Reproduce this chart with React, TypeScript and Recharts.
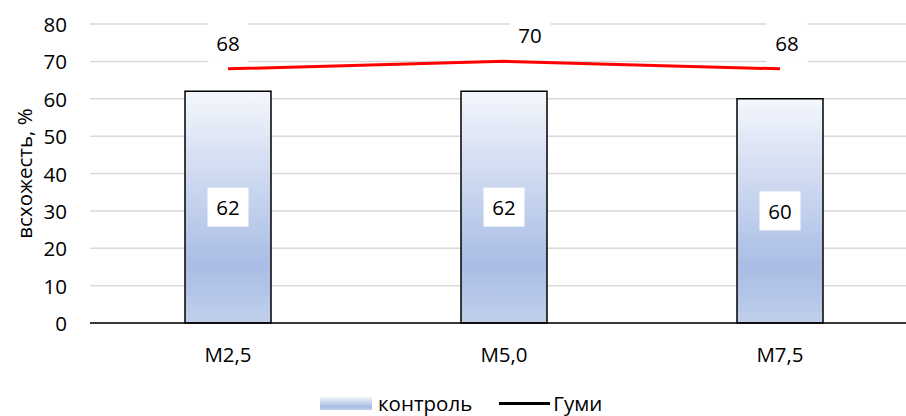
import React from "react";
import {
  ComposedChart,
  Bar,
  Line,
  XAxis,
  YAxis,
  CartesianGrid,
  Legend,
  LabelList,
  Label,
} from "recharts";

const categories = ["M2,5", "M5,0", "M7,5"];
const kontrolValues = [62, 62, 60];
const gumiValues = [68, 70, 68];
const yTicks = [0, 10, 20, 30, 40, 50, 60, 70, 80];

const data = categories.map((name, i) => ({
  name,
  kontrol: kontrolValues[i],
  gumi: gumiValues[i],
}));

const FONT = "'Open Sans', sans-serif";
const FONT_SIZE = 20.5;
// label boxes of the line sit a bit off the point in the original
const gumiLabelShift = [0, 26, 7];

const BarValueLabel = (props: any) => {
  const { x, y, width, height, value } = props;
  const cx = x + width / 2;
  const cy = y + height / 2;
  return (
    <g>
      <rect x={cx - 20.5} y={cy - 19.5} width={41} height={39} fill="#fff" />
      <text
        x={cx}
        y={cy}
        textAnchor="middle"
        dominantBaseline="central"
        fontFamily={FONT}
        fontSize={FONT_SIZE}
        fill="#000"
      >
        {value}
      </text>
    </g>
  );
};

const LineValueLabel = (props: any) => {
  const { x, y, value, index } = props;
  const cx = x + (gumiLabelShift[index] || 0);
  const cy = y - 26;
  return (
    <g>
      <rect x={cx - 20.5} y={cy - 20} width={41} height={40} fill="#fff" />
      <text
        x={cx}
        y={cy}
        textAnchor="middle"
        dominantBaseline="central"
        fontFamily={FONT}
        fontSize={FONT_SIZE}
        fill="#000"
      >
        {value}
      </text>
    </g>
  );
};

const XTick = (props: any) => {
  const { x, y, payload } = props;
  return (
    <text
      x={x}
      y={y + 39}
      textAnchor="middle"
      fontFamily={FONT}
      fontSize={FONT_SIZE}
      fill="#000"
    >
      {payload.value}
    </text>
  );
};

const YTick = (props: any) => {
  const { y, payload } = props;
  return (
    <text
      x={67}
      y={y}
      textAnchor="end"
      dominantBaseline="central"
      fontFamily={FONT}
      fontSize={FONT_SIZE}
      fill="#000"
    >
      {payload.value}
    </text>
  );
};

const YTitle = (props: any) => {
  const { viewBox } = props;
  const cy = viewBox.y + viewBox.height / 2;
  return (
    <text
      x={24}
      y={cy}
      transform={`rotate(-90, 24, ${cy})`}
      textAnchor="middle"
      dominantBaseline="central"
      fontFamily={FONT}
      fontSize={FONT_SIZE}
      fill="#000"
    >
      всхожесть, %
    </text>
  );
};

const LegendContent = () => (
  <div
    style={{
      display: "flex",
      alignItems: "center",
      fontFamily: FONT,
      fontSize: FONT_SIZE,
      color: "#000",
      height: 22,
      lineHeight: "22px",
    }}
  >
    <span
      style={{
        display: "inline-block",
        width: 52,
        height: 13,
        background: "linear-gradient(to bottom, #f2f5fb, #a9bde5 75%, #c2d0ec)",
        marginRight: 6,
      }}
    />
    <span>контроль</span>
    <span
      style={{
        display: "inline-block",
        width: 51,
        height: 3,
        background: "#000",
        marginLeft: 27,
        marginRight: 3,
      }}
    />
    <span>Гуми</span>
  </div>
);

export default function App() {
  return (
    <div
      style={{
        position: "fixed",
        left: 0,
        top: 0,
        width: 906,
        height: 416,
        overflow: "hidden",
        background: "#fff",
      }}
    >
      <ComposedChart
        width={930}
        height={416}
        data={data}
        margin={{ top: 24, right: 12, bottom: 11, left: 0 }}
      >
        <defs>
          <linearGradient id="kontrolFill" x1="0" y1="0" x2="0" y2="1">
            <stop offset="0%" stopColor="#f3f6fc" />
            <stop offset="75%" stopColor="#a9bde5" />
            <stop offset="100%" stopColor="#c0cfeb" />
          </linearGradient>
        </defs>
        <CartesianGrid
          vertical={false}
          stroke="#d9d9d9"
          strokeWidth={1.5}
        />
        <XAxis
          dataKey="name"
          height={60}
          tickLine={false}
          tickSize={0}
          tickMargin={0}
          axisLine={{ stroke: "#000", strokeWidth: 1.5 }}
          tick={<XTick />}
        />
        <YAxis
          width={90}
          domain={[0, 80]}
          ticks={yTicks}
          axisLine={false}
          tickLine={false}
          tick={<YTick />}
        >
          <Label content={<YTitle />} />
        </YAxis>
        <Legend
          verticalAlign="bottom"
          content={<LegendContent />}
          wrapperStyle={{ top: 392, left: 320, bottom: "auto", width: "auto" }}
        />
        <Bar
          dataKey="kontrol"
          name="контроль"
          barSize={86}
          fill="url(#kontrolFill)"
          stroke="#000"
          strokeWidth={1.5}
          isAnimationActive={false}
        >
          <LabelList dataKey="kontrol" content={<BarValueLabel />} />
        </Bar>
        <Line
          dataKey="gumi"
          name="Гуми"
          stroke="#ff0000"
          strokeWidth={3}
          dot={false}
          activeDot={false}
          isAnimationActive={false}
        >
          <LabelList dataKey="gumi" content={<LineValueLabel />} />
        </Line>
      </ComposedChart>
    </div>
  );
}
